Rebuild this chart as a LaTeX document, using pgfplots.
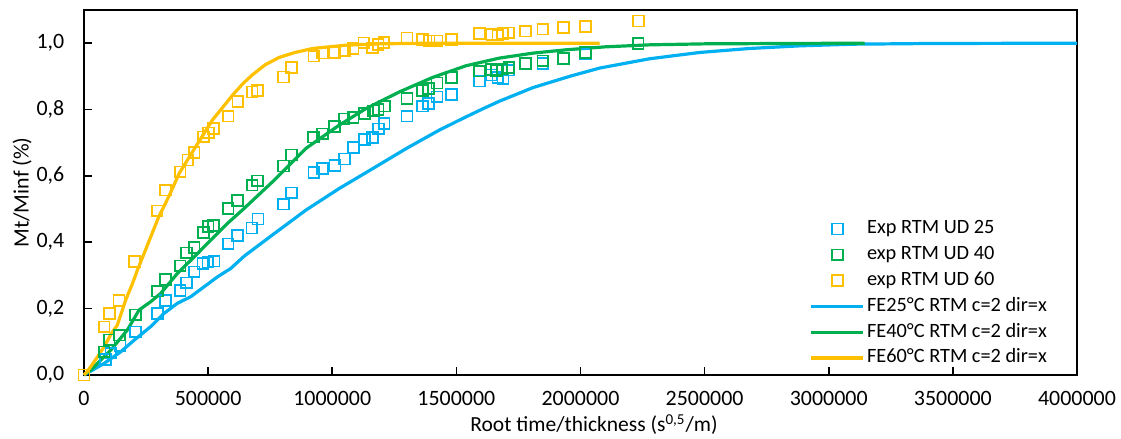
\documentclass[border=0pt]{standalone}
\usepackage{fontspec}
\setmainfont{Carlito}
\usepackage{pgfplots}
\pgfplotsset{compat=1.18}
\definecolor{cblue}{RGB}{0,176,240}
\definecolor{cgreen}{RGB}{0,176,80}
\definecolor{cyellow}{RGB}{255,192,0}
\pgfplotsset{/pgf/number format/assume math mode=true}
\begin{document}
\fontsize{11}{13}\selectfont
\begin{tikzpicture}
\begin{axis}[name=ax,
  scale only axis, width=496.5bp, height=182.5bp,
  xmin=0, xmax=4000000, ymin=0, ymax=1.1,
  axis line style={line width=1bp, black},
  tick style={black, line width=0.8bp},
  major tick length=4bp,
  tick align=inside,
  xtick pos=bottom, ytick pos=left,
  xtick={0,500000,1000000,1500000,2000000,2500000,3000000,3500000,4000000},
  ytick={0,0.2,0.4,0.6,0.8,1.0},
  scaled x ticks=false,
  xticklabel style={/pgf/number format/fixed, /pgf/number format/1000 sep={}, anchor=center, yshift=-11.5bp, font=\fontsize{11}{13}\selectfont},
  yticklabel style={/pgf/number format/.cd, fixed, fixed zerofill, precision=1, use comma, /tikz/.cd, anchor=east, xshift=-6bp, font=\fontsize{11}{13}\selectfont},
  xlabel={Root time/thickness (s\textsuperscript{0,5}/m)},
  ylabel={Mt/Minf (\%)},
  xlabel style={at={(axis description cs:0.5136,-0.136)}, anchor=center, font=\fontsize{10.8}{12}\selectfont},
  ylabel style={at={(axis description cs:-0.0624,0.5)}, anchor=center, rotate=0, font=\fontsize{11}{13}\selectfont},
  legend image code/.code={\draw[mark repeat=2,mark phase=2,#1] plot coordinates {(0bp,0bp) (13bp,0bp) (26bp,0bp)};},
  legend cell align=left,
  legend style={draw=none, fill=none, inner sep=0pt, outer sep=0pt,
    at={(rel axis cs:0.731,0.4302)}, anchor=north west,
    row sep=1.9bp, column sep=1bp,
    font=\fontsize{10.2}{12}\selectfont,
    nodes={inner sep=0bp, text height=8bp, text depth=3bp}},
  clip=false,
]
\addplot[only marks, mark=square, mark size=2.7bp, color=cblue, mark options={line width=0.85bp}] coordinates {
(0,0) (87000,0.046) (108000,0.066) (145000,0.088) (208000,0.130) (296000,0.186)
(329000,0.225) (387000,0.254) (412000,0.278) (444000,0.311) (479000,0.336)
(499000,0.340) (524000,0.343) (581000,0.395) (619000,0.420) (676000,0.443)
(701000,0.470) (803000,0.515) (836000,0.549) (926000,0.611) (961000,0.623)
(1011000,0.631) (1049000,0.651) (1085000,0.686) (1129000,0.709) (1163000,0.716)
(1186000,0.742) (1209000,0.758) (1301000,0.780) (1364000,0.810) (1388000,0.818)
(1422000,0.838) (1480000,0.845) (1593000,0.886) (1641000,0.904) (1667000,0.896)
(1688000,0.894) (1711000,0.919) (1848000,0.939) (2020000,0.967)
};
\addlegendentry{Exp RTM UD 25}
\addplot[only marks, mark=square, mark size=2.7bp, color=cgreen, mark options={line width=0.85bp}] coordinates {
(0,0) (81000,0.070) (101000,0.106) (144000,0.120) (208000,0.181) (296000,0.253)
(329000,0.288) (387000,0.329) (413000,0.368) (444000,0.384) (481000,0.429)
(500000,0.447) (522000,0.450) (581000,0.502) (619000,0.526) (677000,0.572)
(699000,0.585) (803000,0.630) (836000,0.663) (925000,0.717) (961000,0.727)
(1010000,0.749) (1048000,0.772) (1084000,0.776) (1129000,0.788) (1166000,0.796)
(1185000,0.800) (1211000,0.810) (1301000,0.833) (1364000,0.858) (1388000,0.863)
(1422000,0.880) (1480000,0.896) (1593000,0.916) (1641000,0.921) (1662000,0.917)
(1683000,0.922) (1711000,0.927) (1778000,0.939) (1848000,0.947) (1931000,0.954)
(2020000,0.972) (2232000,0.999)
};
\addlegendentry{exp RTM UD 40}
\addplot[only marks, mark=square, mark size=2.7bp, color=cyellow, mark options={line width=0.85bp}] coordinates {
(0,0) (81000,0.145) (103000,0.185) (141000,0.224) (204000,0.342) (295000,0.495)
(329000,0.557) (387000,0.612) (418000,0.648) (444000,0.670) (481000,0.718)
(501000,0.730) (521000,0.743) (581000,0.780) (620000,0.825) (677000,0.853)
(699000,0.858) (804000,0.898) (836000,0.926) (926000,0.961) (961000,0.970)
(1010000,0.972) (1050000,0.977) (1084000,0.984) (1127000,1.001) (1163000,0.986)
(1185000,0.996) (1208000,1.002) (1301000,1.016) (1364000,1.011) (1390000,1.007)
(1422000,1.007) (1480000,1.011) (1593000,1.029) (1643000,1.026) (1667000,1.024)
(1687000,1.029) (1711000,1.031) (1778000,1.036) (1848000,1.042) (1932000,1.047)
(2020000,1.050) (2234000,1.067)
};
\addlegendentry{exp RTM UD 60}
\addplot[no marks, color=cblue, line width=1.6bp] coordinates {
(0,0) (81000,0.035) (148000,0.07) (202000,0.105) (269000,0.146) (323000,0.186)
(376000,0.216) (430000,0.236) (484000,0.266) (538000,0.296) (591000,0.321)
(645000,0.358) (759000,0.422) (894000,0.497) (1028000,0.562) (1163000,0.622)
(1297000,0.682) (1431000,0.738) (1539000,0.778) (1606000,0.802) (1673000,0.825)
(1808000,0.866) (1956000,0.900) (2077000,0.925) (2278000,0.953) (2480000,0.972)
(2680000,0.984) (2883000,0.992) (3100000,0.997) (3400000,0.999) (4000000,1.0)
};
\addlegendentry{FE25°C RTM c=2 dir=x}
\addplot[no marks, color=cgreen, line width=1.6bp] coordinates {
(0,0) (27000,0.015) (108000,0.075) (175000,0.136) (222000,0.196) (269000,0.221)
(309000,0.246) (376000,0.306) (444000,0.356) (511000,0.407) (578000,0.457)
(645000,0.502) (759000,0.582) (894000,0.683) (1028000,0.753) (1136000,0.803)
(1270000,0.853) (1405000,0.897) (1539000,0.932) (1673000,0.955) (1808000,0.970)
(1942000,0.980) (2100000,0.989) (2278000,0.995) (2500000,0.998) (2800000,0.999)
(3145000,1.0)
};
\addlegendentry{FE40°C RTM c=2 dir=x}
\addplot[no marks, color=cyellow, line width=1.6bp] coordinates {
(0,0) (13000,0.01) (50000,0.05) (81000,0.085) (110000,0.125) (134000,0.15)
(168000,0.226) (195000,0.275) (215000,0.316) (242000,0.366) (269000,0.417)
(300000,0.475) (343000,0.54) (383000,0.607) (450000,0.688) (517000,0.768)
(598000,0.843) (640000,0.878) (679000,0.905) (730000,0.935) (786000,0.957)
(850000,0.972) (921000,0.984) (1055000,0.994) (1190000,0.998) (1400000,1.0)
(2077000,1.0)
};
\addlegendentry{FE60°C RTM c=2 dir=x}
\end{axis}
\pgfresetboundingbox
\path ([shift={(-42bp,-32bp)}]ax.south west) rectangle ([shift={(22bp,5bp)}]ax.north east);
\end{tikzpicture}
\end{document}
